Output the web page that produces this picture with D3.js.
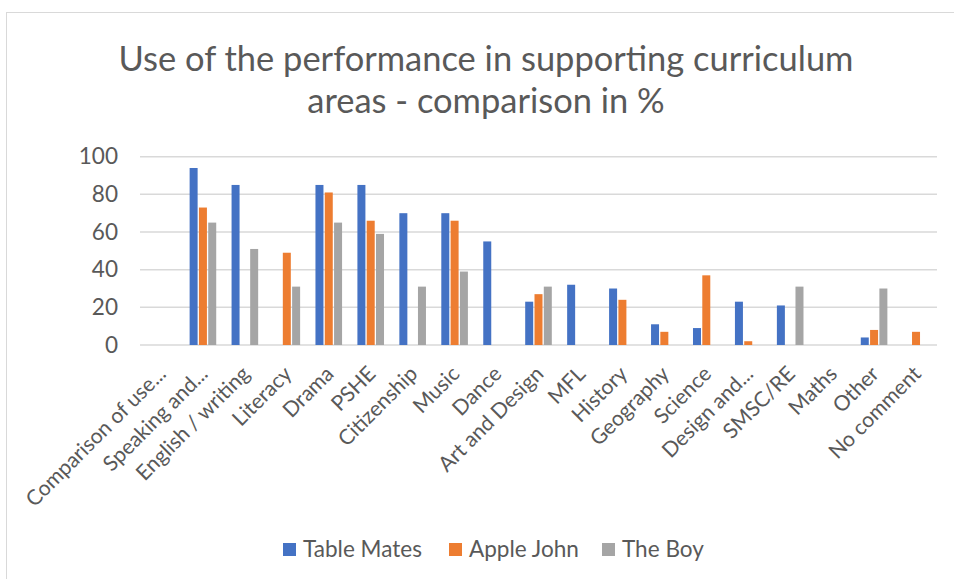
<!DOCTYPE html>
<html>
<head>
<meta charset="utf-8">
<script src="https://cdn.jsdelivr.net/npm/d3@7"></script>
<style>
  html, body { margin: 0; padding: 0; background: #fff; }
  svg { display: block; }
  text { font-family: Lato, "Open Sans", sans-serif; fill: #595959; }
</style>
</head>
<body>
<svg id="chart" width="954" height="579"></svg>
<script>
const categories = ["Comparison of use...", "Speaking and...", "English / writing", "Literacy", "Drama", "PSHE", "Citizenship", "Music", "Dance", "Art and Design", "MFL", "History", "Geography", "Science", "Design and...", "SMSC/RE", "Maths", "Other", "No comment"];
const seriesNames = ["Table Mates", "Apple John", "The Boy"];
const tableMates = [0, 94, 85, 0, 85, 85, 70, 70, 55, 23, 32, 30, 11, 9, 23, 21, 0, 4, 0];
const appleJohn  = [0, 73, 0, 49, 81, 66, 0, 66, 0, 27, 0, 24, 7, 37, 2, 0, 0, 8, 7];
const theBoy     = [0, 65, 51, 31, 65, 59, 31, 39, 0, 31, 0, 0, 0, 0, 0, 31, 0, 30, 0];
const yTicks = [0, 20, 40, 60, 80, 100];
const titleLines = ["Use of the performance in supporting curriculum", "areas - comparison in %"];
const colors = ["#4472C4", "#ED7D31", "#A5A5A5"];

const seriesValues = [tableMates, appleJohn, theBoy];
const svg = d3.select("#chart");

// chart border
svg.append("rect").attr("x", 6.5).attr("y", 12.5).attr("width", 960).attr("height", 600)
  .attr("fill", "none").attr("stroke", "#d9d9d9").attr("stroke-width", 1);

function measure(str, size) {
  const p = svg.append("text").attr("font-size", size).text(str);
  const w = p.node().getComputedTextLength();
  p.remove();
  return w;
}
const titleSize = 35 * 735 / measure(titleLines[0], 35);
const labelSize = 22 * 400 / (measure("Comparison of use...", 22) + measure("English / writing", 22) + measure("Drama", 22));
const tickSize = 22 * 119 / measure("Table Mates", 22);

const plot = {left: 140, right: 937, top: 156.7, bottom: 345};
const x0 = d3.scaleBand().domain(categories).range([plot.left, plot.right]).padding(0);
const x1 = d3.scaleBand().domain(seriesNames).range([0, x0.bandwidth()]).paddingInner(0.14).paddingOuter(0.825);
const y = d3.scaleLinear().domain([0, 100]).range([plot.bottom, plot.top]);

// title
svg.append("g").selectAll("text").data(titleLines).join("text")
  .attr("x", 486).attr("y", (d, i) => 71 + i * 42)
  .attr("text-anchor", "middle").attr("font-size", titleSize).text(d => d);

// gridlines
svg.append("g").selectAll("line").data(yTicks).join("line")
  .attr("x1", plot.left).attr("x2", plot.right)
  .attr("y1", d => y(d)).attr("y2", d => y(d))
  .attr("stroke", "#d9d9d9").attr("stroke-width", 1.5);

// y axis labels
const yAxis = d3.axisLeft(y).tickValues(yTicks).tickSize(0).tickPadding(0);
const yg = svg.append("g").attr("transform", `translate(118,0)`).call(yAxis);
yg.select(".domain").remove();
yg.selectAll("text").attr("font-size", tickSize).attr("fill", "#595959")
  .style("font-family", "Lato, 'Open Sans', sans-serif");

// bars
const groups = svg.append("g").selectAll("g").data(categories).join("g")
  .attr("transform", d => `translate(${x0(d)},0)`);
groups.selectAll("rect").data((d, i) => seriesNames.map((s, j) => ({s, j, v: seriesValues[j][i]})))
  .join("rect")
  .attr("x", d => x1(d.s)).attr("width", x1.bandwidth())
  .attr("y", d => y(d.v)).attr("height", d => y(0) - y(d.v))
  .attr("fill", d => colors[d.j]);

// x labels
svg.append("g").selectAll("text").data(categories).join("text")
  .attr("transform", d => `translate(${x0(d) + x0.bandwidth() / 2 + 1},${plot.bottom + 25}) rotate(-45)`)
  .attr("text-anchor", "end").attr("dy", "0.35em")
  .attr("font-size", labelSize).text(d => d);

// legend
const legendX = [283, 449, 602];
const lg = svg.append("g").selectAll("g").data(seriesNames).join("g")
  .attr("transform", (d, i) => `translate(${legendX[i]},543)`);
lg.append("rect").attr("width", 13).attr("height", 13).attr("fill", (d, i) => colors[i]);
lg.append("text").attr("x", 20).attr("y", 6.5).attr("dy", "0.35em")
  .attr("font-size", tickSize).text(d => d);
</script>
</body>
</html>
